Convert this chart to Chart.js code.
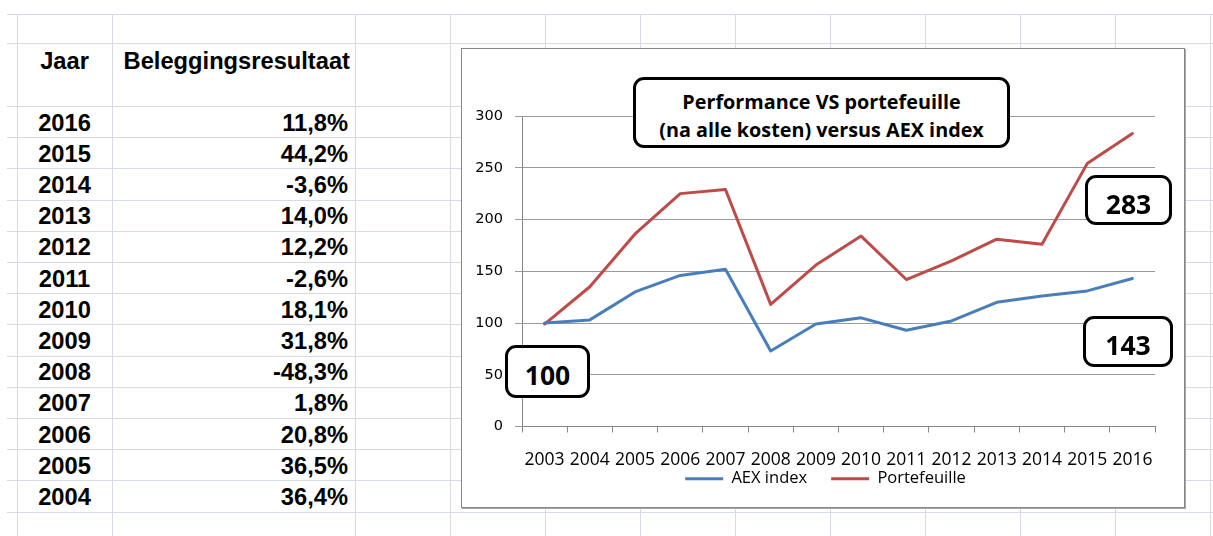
<!DOCTYPE html>
<html><head><meta charset="utf-8">
<script src="https://cdn.jsdelivr.net/npm/chart.js@4"></script>
<style>
html,body{margin:0;padding:0;background:#fff;width:1213px;height:536px;overflow:hidden;position:relative;}
#sheet{position:absolute;left:0;top:0;width:1213px;height:536px;}
.ln{position:absolute;background:#d4dae6;}
.cell{position:absolute;font-family:"Liberation Sans",Arial,sans-serif;font-weight:bold;font-size:23.7px;line-height:26px;height:26px;color:#000;white-space:nowrap;}
#chartBox{position:absolute;left:461px;top:48px;width:722px;height:458px;border:1px solid #868686;background:#fff;box-shadow:1px 1px 0 #a8a8a8;}
#chartBox canvas{position:absolute;left:0;top:0;}
.rbox{position:absolute;box-sizing:border-box;border:3px solid #000;border-radius:11px;background:#fff;font-family:"Open Sans",sans-serif;font-weight:bold;color:#000;text-align:center;white-space:nowrap;}
</style></head><body>
<div id="sheet"></div>
<div id="chartBox"><canvas id="c" width="722" height="458"></canvas></div>
<div id="titleBox" class="rbox" style="left:633px;top:77px;width:377px;height:71px;padding-top:8px;font-size:19.8px;line-height:28px;"></div>
<div id="box283" class="rbox" style="left:1085px;top:175px;width:87px;height:50px;padding-top:8px;font-size:26.5px;line-height:36px;"></div>
<div id="box143" class="rbox" style="left:1083px;top:316px;width:90px;height:51px;padding-top:8px;font-size:26.5px;line-height:37px;"></div>
<div id="box100" class="rbox" style="left:505px;top:345px;width:85px;height:53px;padding-top:7px;font-size:26.5px;line-height:40px;"></div>
<script>
// ---- data ----
const years = ['2003','2004','2005','2006','2007','2008','2009','2010','2011','2012','2013','2014','2015','2016'];
const aexIndex = [100,103,130,146,152,73,99,105,93,102,120,126,131,143];
const portefeuille = [99,135,186,225,229,118,156,184,142,160,181,176,254,283];
const yTicks = [0,50,100,150,200,250,300];
const seriesNames = ['AEX index','Portefeuille'];
const titleLines = ['Performance VS portefeuille','(na alle kosten) versus AEX index'];
const tableHeaders = ['Jaar','Beleggingsresultaat'];
const tableYears = ['2016','2015','2014','2013','2012','2011','2010','2009','2008','2007','2006','2005','2004'];
const tableReturns = ['11,8%','44,2%','-3,6%','14,0%','12,2%','-2,6%','18,1%','31,8%','-48,3%','1,8%','20,8%','36,5%','36,4%'];

// ---- spreadsheet background ----
const sheet = document.getElementById('sheet');
function addDiv(cls, l, t, w, h, text, align) {
  const d = document.createElement('div');
  d.className = cls;
  d.style.left = l + 'px'; d.style.top = t + 'px';
  d.style.width = w + 'px';
  if (h !== null) d.style.height = h + 'px';
  if (text !== undefined) { d.textContent = text; d.style.textAlign = align; }
  sheet.appendChild(d);
}
const rowTop = 106, rowH = 31.2;
const hYs = [14, 43];
for (let i = 0; i <= 14; i++) hYs.push(Math.round(rowTop + i * rowH));
hYs.forEach(y => addDiv('ln', 7, y, 1206, 1));
const vXs = [17, 112, 355];
for (let x = 450; x <= 1213; x += 95) vXs.push(x);
vXs.forEach(x => addDiv('ln', x, 14, 1, 522));

addDiv('cell', 17, 47.5, 95, null, tableHeaders[0], 'center');
addDiv('cell', 112, 47.5, 238, null, tableHeaders[1], 'right');
tableYears.forEach((y, i) => {
  const t = rowTop + i * rowH + 3.5;
  addDiv('cell', 17, t, 95, null, y, 'center');
  addDiv('cell', 112, t, 236, null, tableReturns[i], 'right');
});

// ---- annotation boxes ----
document.getElementById('titleBox').innerHTML = titleLines.map(s => '<div>' + s + '</div>').join('');
document.getElementById('box283').textContent = portefeuille[portefeuille.length - 1];
document.getElementById('box143').textContent = aexIndex[aexIndex.length - 1];
document.getElementById('box100').textContent = aexIndex[0];

// ---- chart ----
Chart.defaults.font.family = "'Open Sans', sans-serif";
const blue = '#4a7ebb', red = '#be4b48';
const legendShift = {
  id: 'legendShift',
  afterLayout(chart) {
    chart.legend.top -= 20;
    chart.legend.bottom -= 20;
    chart.legend.left += 17;
    chart.legend.right += 17;
  }
};
new Chart(document.getElementById('c'), {
  type: 'line',
  plugins: [legendShift],
  data: {
    labels: years,
    datasets: [
      {label: seriesNames[0], data: aexIndex, borderColor: blue, backgroundColor: blue, borderWidth: 3,
       pointRadius: 0, tension: 0, borderJoinStyle: 'round', borderCapStyle: 'round'},
      {label: seriesNames[1], data: portefeuille, borderColor: red, backgroundColor: red, borderWidth: 3,
       pointRadius: 0, tension: 0, borderJoinStyle: 'round', borderCapStyle: 'round'}
    ]
  },
  options: {
    responsive: false, animation: false, devicePixelRatio: 1,
    layout: {padding: {left: 0, right: 29, top: 67, bottom: -10}},
    plugins: {
      tooltip: {enabled: false},
      legend: {
        position: 'bottom',
        labels: {
          boxWidth: 38, boxHeight: 3, padding: 24, color: '#000',
          font: {family: "'Open Sans', sans-serif", size: 16.5},
          generateLabels: chart => Chart.defaults.plugins.legend.labels.generateLabels(chart).map(l => Object.assign(l, {lineWidth: 0}))
        }
      }
    },
    scales: {
      x: {
        offset: true,
        grid: {offset: true, drawOnChartArea: false, drawTicks: true, tickLength: 6, color: '#868686'},
        border: {color: '#868686', width: 1},
        ticks: {autoSkip: false, maxRotation: 0, minRotation: 0, padding: 17.5, color: '#000',
                font: {family: "'Open Sans', sans-serif", size: 17.5}},
        afterFit: s => { s.height = 40; }
      },
      y: {
        min: yTicks[0], max: yTicks[yTicks.length - 1],
        grid: {color: '#9a9a9a', tickLength: 7},
        border: {color: '#868686', width: 1},
        ticks: {padding: 12, color: '#000', font: {family: "'DejaVu Sans', sans-serif", size: 14.5}},
        afterBuildTicks: s => { s.ticks = yTicks.map(v => ({value: v})); },
        afterFit: s => { s.width = 60; }
      }
    }
  }
});
</script>
</body></html>
